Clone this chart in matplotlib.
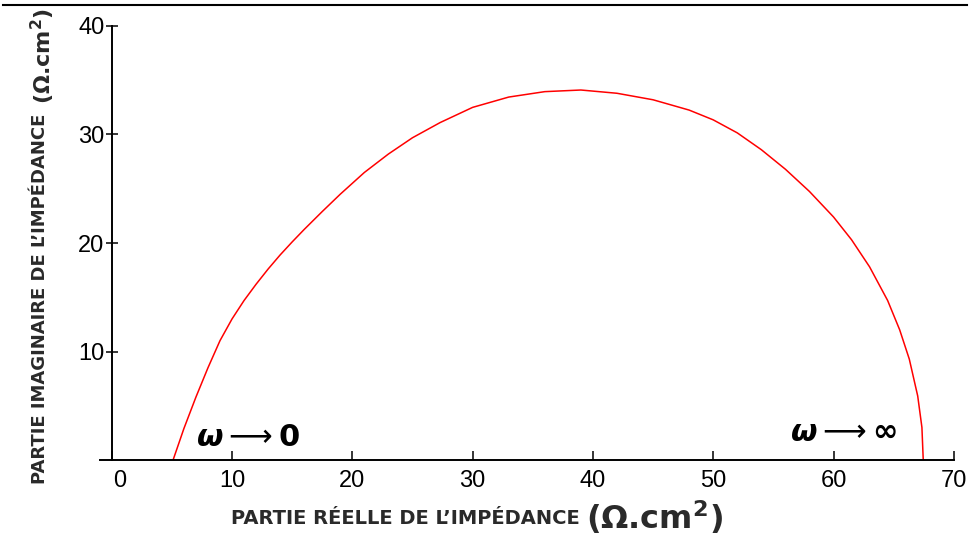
import matplotlib
matplotlib.use("Agg")
import matplotlib.pyplot as plt
from matplotlib.transforms import ScaledTranslation

# Nyquist curve (ohm.cm2)
z_real = [5.1, 6.0, 7.0, 8.0, 9.0, 10.0, 11.0, 12.0, 13.0, 14.0, 15.0, 16.0,
          17.5, 19.0, 21.0, 23.0, 25.0, 27.3, 30.0, 33.0, 36.0, 39.0,
          42.0, 45.0, 48.0, 50.0, 52.0, 54.0, 56.0, 58.0, 60.0, 61.5, 63.0,
          64.5, 65.5, 66.3, 67.0, 67.35, 67.46]
z_imag = [0.0, 2.9, 5.8, 8.5, 11.0, 13.0, 14.7, 16.2, 17.6, 18.9, 20.1, 21.25,
          22.9, 24.5, 26.5, 28.2, 29.7, 31.1, 32.5, 33.45, 33.95, 34.1,
          33.8, 33.2, 32.25, 31.35, 30.15, 28.6, 26.8, 24.75, 22.4, 20.3, 17.8,
          14.7, 12.0, 9.3, 5.9, 3.0, 0.0]

x_ticks = [0, 10, 20, 30, 40, 50, 60, 70]
y_ticks = [10, 20, 30, 40]

W, H = 973, 537
fig = plt.figure(figsize=(W / 100, H / 100), dpi=100)
ax = fig.add_axes([99.7 / W, 77 / H, 854.1 / W, 434 / H])

ax.plot(z_real, z_imag, color="#ff0000", lw=1.1)

ax.set_xlim(-1, 70)
ax.set_ylim(0, 40)
ax.spines["top"].set_visible(False)
ax.spines["right"].set_visible(False)
ax.spines["left"].set_position(("data", 0))
ax.spines["left"].set_linewidth(1.4)
ax.spines["bottom"].set_linewidth(1.4)

ax.set_xticks(x_ticks)
ax.set_yticks(y_ticks)
ax.tick_params(axis="x", direction="in", length=6.5, width=1.1, pad=7,
               labelsize=17)
ax.tick_params(axis="y", direction="inout", length=8.6, width=1.1, pad=1,
               labelsize=17)
for lab in ax.get_xticklabels() + ax.get_yticklabels():
    lab.set_fontfamily("Liberation Sans")

# the "0" label sits a bit right of the y axis in the original
lab0 = ax.get_xticklabels()[0]
lab0.set_transform(lab0.get_transform() + ScaledTranslation(8 / 100, 0, fig.dpi_scale_trans))

# frequency limits
ax.text(7.0, 2.1, r"$\boldsymbol{\omega}\longrightarrow\mathbf{0}$", fontsize=22,
        ha="left", va="center")
ax.text(56.4, 2.5, r"$\boldsymbol{\omega}\longrightarrow\boldsymbol{\infty}$", fontsize=22,
        ha="left", va="center")

# axis titles
lab_col = "#2a2a2a"
fig.text(405 / W, 1 - 519 / H, "PARTIE RÉELLE DE L’IMPÉDANCE", fontsize=14,
         fontweight="bold", color=lab_col, ha="center", va="center")
fig.text(654 / W, 1 - 517 / H, r"(Ω.cm$^\mathbf{2}$)", fontsize=23,
         fontweight="bold", color=lab_col, ha="center", va="center")
fig.text(40 / W, 1 - 299 / H, "PARTIE IMAGINAIRE DE L’IMPÉDANCE", fontsize=13,
         fontweight="bold", color=lab_col, ha="center", va="center", rotation=90)
fig.text(43 / W, 1 - 56 / H, r"(Ω.cm$^\mathbf{2}$)", fontsize=16,
         fontweight="bold", color=lab_col, ha="center", va="center", rotation=90)

# border line at the top of the picture
fig.add_artist(plt.Line2D([3 / W, 967 / W], [1 - 5 / H, 1 - 5 / H],
                          transform=fig.transFigure, color="black", lw=1.5))

fig.savefig("out.png", dpi=100)
